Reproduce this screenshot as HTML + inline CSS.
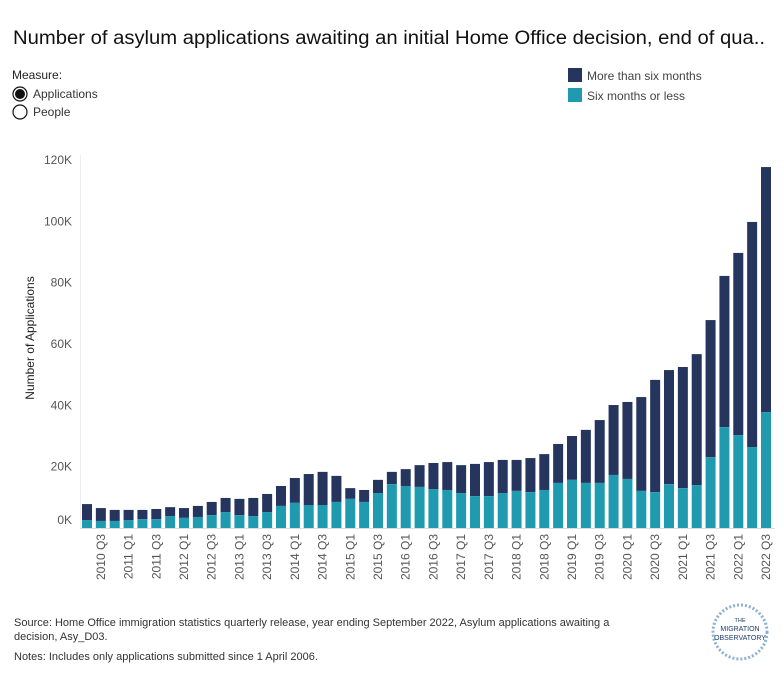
<!DOCTYPE html>
<html><head><meta charset="utf-8"><style>
body{margin:0;background:#fff;width:784px;height:700px;overflow:hidden;font-family:"Liberation Sans",sans-serif;}
svg{display:block}
</style></head><body>
<svg id="chart" width="784" height="700">
<text x="13" y="44" font-size="19" fill="#111" textLength="752" lengthAdjust="spacingAndGlyphs">Number of asylum applications awaiting an initial Home Office decision, end of qua..</text>
<text x="12" y="79" font-size="12" fill="#222">Measure:</text>
<g><circle cx="20" cy="94" r="7" fill="none" stroke="#111" stroke-width="1.2"/><circle cx="20" cy="94" r="5" fill="#111"/><text x="33" y="98" font-size="12" fill="#333">Applications</text></g>
<g><circle cx="20" cy="112" r="7" fill="none" stroke="#111" stroke-width="1.2"/><text x="33" y="116" font-size="12" fill="#333">People</text></g>
<g><rect x="568" y="68" width="14" height="14" fill="#25355e"/><text x="587" y="80" font-size="12" fill="#444">More than six months</text></g>
<g><rect x="568" y="88" width="14" height="14" fill="#1f9aaf"/><text x="587" y="100" font-size="12" fill="#444">Six months or less</text></g>
<text transform="translate(34,338) rotate(-90)" text-anchor="middle" font-size="12" fill="#222">Number of Applications</text>
<line x1="80.5" y1="155" x2="80.5" y2="528" stroke="#eee"/>
<line x1="80" y1="528.5" x2="775" y2="528.5" stroke="#ddd"/>
<g id="yt"></g><g id="bars"></g><g id="xt"></g>
<text x="14" y="626" font-size="11" fill="#333">Source: Home Office immigration statistics quarterly release, year ending September 2022, Asylum applications awaiting a</text>
<text x="14" y="640" font-size="11" fill="#333">decision, Asy_D03.</text>
<text x="14" y="660" font-size="11" fill="#333">Notes: Includes only applications submitted since 1 April 2006.</text>
<g>
<circle cx="740" cy="632" r="27" fill="none" stroke="#8ab0d6" stroke-width="3" stroke-dasharray="2 2"/>
<text x="740" y="622" text-anchor="middle" font-size="5.5" fill="#1a3a6e">THE</text>
<text x="740" y="631" text-anchor="middle" font-size="7" fill="#1a3a6e">MIGRATION</text>
<text x="740" y="640" text-anchor="middle" font-size="7" fill="#1a3a6e">OBSERVATORY</text>
</g>
</svg>
<script>
const quarters=[];
for(let y=2010,q=2;!(y===2022&&q===4);){quarters.push(y+' Q'+q);q++;if(q>4){q=1;y++;}}
const totalK=[7.8,6.5,5.9,5.9,5.9,6.2,6.8,6.5,7.2,8.5,9.8,9.5,9.8,11.1,13.7,16.3,17.6,18.3,17.0,13.0,12.4,15.7,18.3,19.2,20.5,21.2,21.5,20.5,20.9,21.5,22.2,22.2,22.8,24.1,27.4,30.0,32.0,35.2,40.1,41.1,42.7,48.3,51.5,52.5,56.7,67.8,82.2,89.7,99.8,117.7];
const shortK=[2.6,2.3,2.3,2.6,2.9,2.9,3.9,3.3,3.6,4.2,5.2,4.2,3.9,5.2,7.2,8.2,7.5,7.5,8.5,9.5,8.5,11.4,14.3,13.7,13.4,12.7,12.4,11.4,10.4,10.4,11.4,12.1,11.7,12.4,14.7,15.7,14.7,14.7,17.3,16.0,12.1,11.7,14.3,13.0,14.0,23.1,32.9,30.3,26.4,37.8];
const yTicks=[0,20,40,60,80,100,120];
const NS='http://www.w3.org/2000/svg';
const y0=528,pxPerK=(528-160)/120;
const yS=v=>y0-v*pxPerK;
const xS=i=>87+i*(766-87)/49;
const bw=10;
const yt=document.getElementById('yt'),bars=document.getElementById('bars'),xt=document.getElementById('xt');
yTicks.forEach(t=>{
 const tx=document.createElementNS(NS,'text');
 
 
 tx.setAttribute('x',72);tx.setAttribute('y',t===0?524:yS(t)+4);
 tx.setAttribute('text-anchor','end');tx.setAttribute('font-size','12');tx.setAttribute('fill','#555');
 tx.textContent=t+'K';yt.appendChild(tx);
});
quarters.forEach((q,i)=>{
 const x=xS(i)-bw/2;
 const r1=document.createElementNS(NS,'rect');
 
 
 r1.setAttribute('x',x);r1.setAttribute('width',bw);r1.setAttribute('y',yS(totalK[i]));
 r1.setAttribute('height',yS(shortK[i])-yS(totalK[i]));r1.setAttribute('fill','#25355e');bars.appendChild(r1);
 const r2=document.createElementNS(NS,'rect');
 
 
 r2.setAttribute('x',x);r2.setAttribute('width',bw);r2.setAttribute('y',yS(shortK[i]));
 r2.setAttribute('height',y0-yS(shortK[i]));r2.setAttribute('fill','#1f9aaf');bars.appendChild(r2);
 if(i%2===1){
  const t=document.createElementNS(NS,'text');
  
  
  t.setAttribute('transform','translate('+(xS(i)+4)+',534) rotate(-90)');
  t.setAttribute('text-anchor','end');t.setAttribute('font-size','12');t.setAttribute('fill','#555');
  t.textContent=q;xt.appendChild(t);
 }
});
</script>
</body></html>
